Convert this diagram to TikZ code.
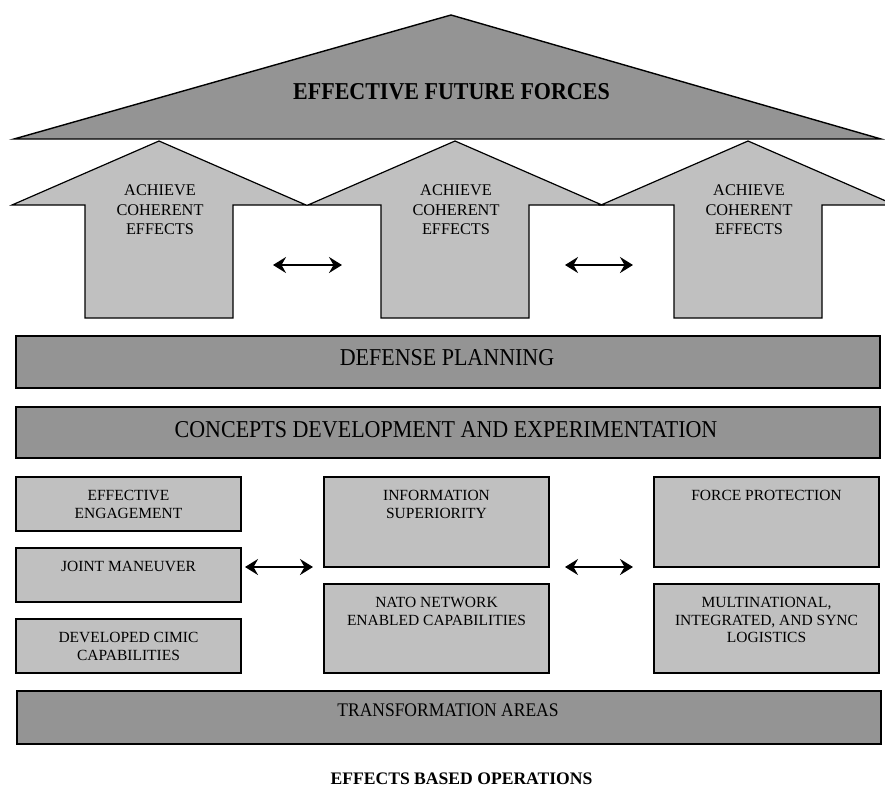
\documentclass[tikz,border=0pt]{standalone}
\usepackage{fontspec}
\setmainfont{Liberation Serif}
\usetikzlibrary{arrows.meta}

\definecolor{darkfill}{RGB}{148,148,148}
\definecolor{lightfill}{RGB}{192,192,192}

\tikzset{
  roofshape/.style={draw=black, line width=1.4pt, fill=darkfill, line join=miter},
  uparrow/.style={draw=black, line width=1.2pt, fill=lightfill, line join=miter},
  bar/.style={draw=black, line width=2pt, fill=darkfill, minimum width=864pt, inner sep=0pt},
  cell/.style={draw=black, line width=1.8pt, fill=lightfill, minimum width=225pt, inner sep=0pt},
  celltext/.style={anchor=north, inner sep=0pt, align=center, font=\fontsize{15.5}{17.5}\selectfont},
  arrowtext/.style={anchor=north, inner sep=0pt, align=center, font=\fontsize{16.3}{19.5}\selectfont},
  bartext/.style={inner sep=0pt, font=\fontsize{22}{26}\selectfont},
  smallbartext/.style={inner sep=0pt, font=\fontsize{17.5}{21}\selectfont},
  link/.style={line width=2.2pt,
    {Stealth[length=13pt,width=16pt,inset=4.5pt]}-{Stealth[length=13pt,width=16pt,inset=4.5pt]}},
}

\begin{document}
\begin{tikzpicture}[x=1pt,y=-1pt]
\useasboundingbox (0,0) rectangle (885,787);
\clip (0,0) rectangle (885,787);

% roof
\draw[roofshape] (14,139) -- (451,15) -- (881,139) -- cycle;
\node[inner sep=0pt, font=\fontsize{22}{26}\selectfont\bfseries] (roof) at (451.5,92)
  {\scalebox{1}[1.1]{EFFECTIVE FUTURE FORCES}};

% three upward arrows (columns)
\foreach \cx/\nm in {159/ua, 455/ub, 748/uc}{
  \draw[uparrow] (\cx-147,205) -- (\cx,141) -- (\cx+147,205) -- (\cx+74,205)
    -- (\cx+74,318) -- (\cx-74,318) -- (\cx-74,205) -- cycle;
  \node[arrowtext] (\nm) at (\cx+1,185) {ACHIEVE\\COHERENT\\EFFECTS};
}

% links between the columns
\coordinate (ab1) at (273,265);
\coordinate (ab2) at (342,265);
\coordinate (bc1) at (565,265);
\coordinate (bc2) at (633,265);
\draw[link] (ab1) -- (ab2);
\draw[link] (bc1) -- (bc2);

% wide bars
\node[bar, minimum height=52pt] (dp) at (448,362) {};
\node[bartext] (dpt) at (447,358) {\scalebox{1}[1.1]{DEFENSE PLANNING}};

\node[bar, minimum height=51pt] (cde) at (448,432.5) {};
\node[bartext] (cdet) at (446,430) {\scalebox{1}[1.1]{CONCEPTS DEVELOPMENT AND EXPERIMENTATION}};

% left column
\node[cell, minimum height=54pt] (ee) at (128.5,504) {};
\node[celltext] at ([yshift=-14pt]ee.north) {EFFECTIVE\\ENGAGEMENT};
\node[cell, minimum height=54pt] (jm) at (128.5,575) {};
\node[celltext] at ([yshift=-14pt]jm.north) {JOINT MANEUVER};
\node[cell, minimum height=54pt] (dc) at (128.5,646) {};
\node[celltext] at ([yshift=-14pt]dc.north) {DEVELOPED CIMIC\\CAPABILITIES};

% middle column
\node[cell, minimum height=90pt] (is) at (436.5,522) {};
\node[celltext] at ([yshift=-14pt]is.north) {INFORMATION\\SUPERIORITY};
\node[cell, minimum height=89pt] (nnec) at (436.5,628.5) {};
\node[celltext] at ([yshift=-14pt]nnec.north) {NATO NETWORK\\ENABLED CAPABILITIES};

% right column
\node[cell, minimum height=90pt] (fp) at (766.5,522) {};
\node[celltext] at ([yshift=-14pt]fp.north) {FORCE PROTECTION};
\node[cell, minimum height=89pt] (log) at (766.5,628.5) {};
\node[celltext] at ([yshift=-14pt]log.north) {MULTINATIONAL,\\INTEGRATED, AND SYNC\\LOGISTICS};

% links between the columns of areas
\coordinate (lm1) at (245,567);
\coordinate (lm2) at (313,567);
\coordinate (mr1) at (565,567);
\coordinate (mr2) at (633,567);
\draw[link] (lm1) -- (lm2);
\draw[link] (mr1) -- (mr2);

% base bar
\node[bar, minimum height=53pt] (ta) at (448.5,717.5) {};
\node[smallbartext] (tat) at (448,710.5) {\scalebox{1}[1.1]{TRANSFORMATION AREAS}};

% caption
\node[inner sep=0pt, font=\fontsize{17.6}{21}\selectfont\bfseries] (ebo) at (461.5,778.5)
  {EFFECTS BASED OPERATIONS};
\end{tikzpicture}
\end{document}
